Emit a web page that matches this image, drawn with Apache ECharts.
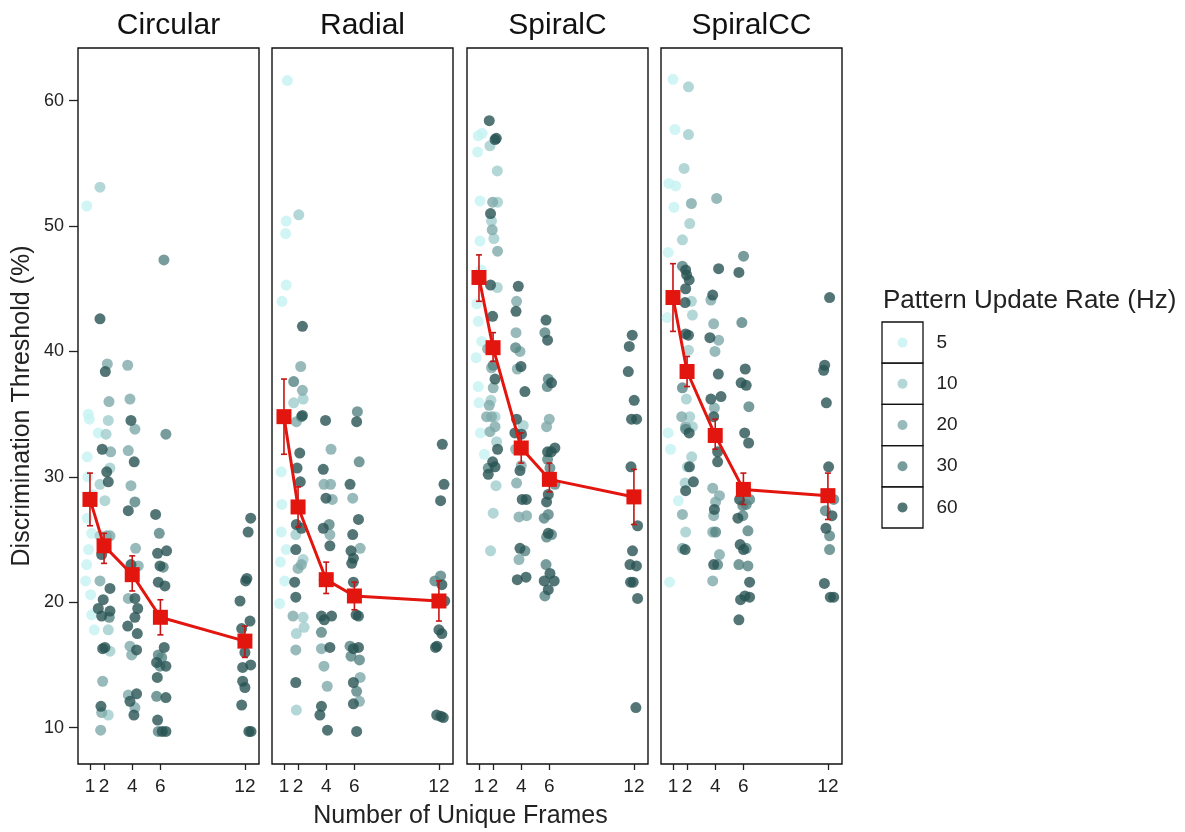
<!DOCTYPE html>
<html lang="en">
<head>
    <meta charset="utf-8">
    <title>Discrimination threshold by unique frames</title>
    <script src="https://cdn.jsdelivr.net/npm/echarts@6/dist/echarts.min.js"></script>
    <style>
        html, body { margin: 0; padding: 0; background: #fff; }
        #main { width: 1185px; height: 832px; }
    </style>
</head>
<body>
<div id="main"></div>
<script type="text/javascript">
    // facets and x categories
    var panels = ['Circular', 'Radial', 'SpiralC', 'SpiralCC'];
    var frames = [1, 2, 4, 6, 12];
    var rates = [5, 10, 20, 30, 60];

    // jittered points: [frames (jittered), threshold, rate]
    var circularPts = [
        [1.71, 53.1, 10], [0.77, 51.6, 5], [6.25, 47.3, 30], [1.71, 42.6, 60], [2.23, 39.0, 20], [3.68, 38.9, 20],
        [2.09, 38.4, 60], [2.35, 36.0, 20], [3.84, 36.2, 20], [0.88, 35.0, 5], [0.95, 34.6, 5], [2.30, 34.5, 10],
        [3.91, 34.5, 60], [4.19, 33.8, 20], [6.39, 33.4, 30], [1.59, 33.5, 5], [2.14, 33.4, 10], [0.81, 31.6, 5],
        [1.87, 32.2, 60], [2.47, 32.0, 20], [3.72, 32.1, 20], [4.14, 31.2, 60], [2.19, 30.4, 60], [2.42, 30.7, 10],
        [2.30, 29.6, 60], [1.71, 29.4, 10], [3.91, 29.3, 20], [2.06, 28.1, 10], [4.19, 28.0, 30], [3.72, 27.3, 60],
        [5.66, 27.0, 60], [5.92, 25.5, 30], [1.71, 25.3, 10], [0.81, 26.7, 5], [1.12, 25.5, 5], [2.19, 25.3, 20],
        [2.42, 25.3, 20], [4.24, 24.3, 20], [0.77, 23.0, 5], [0.69, 21.7, 5], [1.83, 23.8, 60], [5.80, 23.9, 60],
        [6.44, 24.1, 60], [5.97, 22.9, 60], [6.20, 22.8, 30], [4.43, 22.9, 20], [3.91, 23.0, 60], [1.71, 21.7, 20],
        [2.42, 21.1, 60], [5.85, 21.6, 60], [6.32, 21.3, 60], [1.94, 20.2, 60], [1.59, 19.5, 60], [2.42, 19.3, 60],
        [1.83, 18.9, 60], [2.37, 18.8, 30], [2.30, 17.8, 10], [1.12, 19.0, 5], [1.31, 17.8, 5], [3.72, 20.3, 20],
        [4.19, 20.3, 60], [4.39, 19.5, 60], [4.19, 18.8, 60], [3.68, 18.1, 60], [4.36, 17.5, 60], [3.84, 16.5, 20],
        [4.31, 16.2, 60], [3.96, 15.8, 20], [1.90, 16.3, 60], [2.06, 16.4, 60], [2.42, 16.1, 10], [1.90, 13.7, 20],
        [1.78, 11.7, 60], [1.83, 11.2, 20], [2.30, 11.0, 10], [1.76, 9.8, 20], [3.72, 12.6, 20], [4.31, 12.7, 60],
        [3.84, 12.1, 60], [4.19, 11.6, 20], [4.12, 11.0, 60], [6.27, 16.4, 60], [5.85, 15.8, 30], [6.09, 15.6, 30],
        [5.73, 15.2, 60], [6.39, 14.9, 60], [5.97, 14.9, 30], [5.78, 14.0, 60], [5.73, 12.5, 30], [6.39, 12.4, 60],
        [5.80, 10.6, 60], [5.85, 9.7, 30], [6.39, 9.7, 60], [6.13, 9.7, 60], [12.41, 26.7, 60], [12.23, 25.6, 60],
        [12.05, 21.7, 60], [12.14, 21.9, 60], [11.65, 20.1, 60], [12.36, 18.5, 60], [11.77, 17.9, 60], [12.0, 16.0, 60],
        [12.41, 15.0, 60], [11.84, 14.8, 60], [11.84, 13.7, 60], [12.0, 13.2, 60], [11.77, 11.8, 60], [12.28, 9.7, 60],
        [12.43, 9.7, 60], [0.85, 30.0, 5], [1.20, 28.6, 5], [0.90, 24.2, 5], [1.05, 20.6, 5]
    ];
    var radialPts = [
        [1.24, 61.6, 5], [2.05, 50.9, 10], [1.16, 50.4, 5], [1.12, 49.4, 5], [1.16, 45.3, 5], [0.86, 44.0, 5],
        [2.31, 42.0, 60], [2.19, 38.8, 20], [1.69, 37.6, 30], [2.31, 36.9, 20], [2.36, 36.2, 10], [1.69, 35.9, 10],
        [2.24, 34.8, 30], [1.88, 34.4, 20], [3.95, 34.5, 60], [6.21, 35.2, 30], [6.16, 34.4, 60], [2.31, 34.9, 60],
        [4.34, 32.2, 20], [12.24, 32.6, 60], [2.12, 31.9, 60], [6.34, 31.2, 30], [0.81, 30.4, 5], [1.93, 30.7, 60],
        [3.79, 30.6, 60], [2.16, 29.6, 60], [3.84, 29.4, 20], [4.31, 29.4, 20], [5.69, 29.4, 60], [12.36, 29.4, 60],
        [5.88, 28.3, 20], [12.12, 28.1, 60], [3.98, 28.3, 60], [4.43, 28.2, 20], [6.29, 26.6, 60], [1.88, 26.2, 60],
        [2.24, 25.9, 60], [0.81, 25.6, 5], [3.79, 25.9, 60], [4.21, 26.2, 30], [4.26, 25.4, 20], [5.88, 25.4, 60],
        [1.84, 25.4, 10], [4.26, 24.5, 60], [1.84, 24.2, 60], [1.16, 24.2, 5], [5.76, 24.1, 60], [6.41, 24.3, 20],
        [5.81, 23.1, 60], [5.93, 23.5, 60], [2.36, 23.4, 10], [2.24, 23.0, 20], [2.0, 22.7, 20], [12.12, 22.1, 30],
        [11.71, 21.7, 30], [12.41, 20.1, 60], [12.21, 21.4, 60], [3.86, 21.8, 60], [1.76, 21.6, 60], [1.05, 21.7, 5],
        [1.84, 20.4, 60], [5.93, 21.6, 60], [0.69, 19.9, 5], [1.64, 18.9, 20], [2.36, 18.8, 10], [2.43, 18.0, 10],
        [1.88, 17.5, 10], [3.66, 18.9, 60], [4.38, 18.9, 60], [3.86, 18.6, 60], [3.66, 17.6, 30], [6.12, 19.0, 60],
        [6.29, 18.9, 60], [12.0, 17.8, 60], [12.21, 17.5, 60], [11.76, 16.4, 60], [11.86, 16.5, 60], [1.84, 16.2, 20],
        [3.66, 16.3, 20], [4.26, 16.4, 60], [5.69, 16.5, 30], [6.29, 16.4, 60], [5.93, 16.3, 60], [5.76, 15.7, 30],
        [6.36, 15.4, 30], [3.84, 14.9, 20], [4.07, 13.3, 20], [1.84, 13.6, 60], [5.93, 13.6, 60], [6.41, 14.0, 20],
        [6.16, 12.9, 30], [3.66, 11.7, 60], [3.55, 11.0, 60], [1.88, 11.4, 10], [5.93, 11.9, 60], [6.36, 12.1, 20],
        [4.09, 9.8, 60], [6.16, 9.7, 60], [11.84, 11.0, 60], [12.14, 10.9, 60], [12.31, 10.8, 60], [2.0, 27.6, 30],
        [0.85, 27.8, 5], [0.75, 23.2, 5]
    ];
    var spiralCPts = [
        [1.73, 58.4, 60], [2.14, 56.9, 60], [2.23, 57.0, 60], [0.95, 57.2, 5], [1.23, 57.4, 5], [1.78, 56.4, 10],
        [0.90, 55.9, 5], [2.30, 54.4, 10], [1.07, 52.0, 5], [1.97, 51.9, 20], [2.32, 51.9, 10], [1.82, 51.0, 60],
        [1.89, 50.4, 10], [1.94, 49.7, 20], [2.06, 49.0, 10], [1.07, 48.8, 5], [2.32, 48.0, 20], [1.82, 45.3, 60],
        [2.30, 45.1, 10], [3.79, 45.2, 60], [3.67, 44.0, 20], [3.63, 43.2, 60], [5.76, 42.5, 60], [5.68, 41.5, 30],
        [5.87, 40.9, 60], [11.88, 41.3, 60], [11.67, 40.4, 60], [11.60, 38.4, 60], [12.02, 36.1, 60], [11.83, 34.6, 60],
        [12.19, 34.6, 60], [1.97, 42.8, 60], [0.95, 42.4, 5], [1.61, 40.2, 20], [3.63, 41.5, 20], [3.60, 40.3, 30],
        [3.91, 40.0, 20], [3.98, 38.8, 60], [3.72, 38.6, 20], [2.01, 38.9, 30], [1.89, 38.7, 20], [2.14, 37.8, 60],
        [2.01, 37.1, 20], [0.95, 37.2, 5], [4.26, 36.8, 60], [5.92, 37.8, 30], [6.15, 37.5, 60], [5.85, 37.2, 30],
        [1.85, 36.1, 10], [1.73, 35.7, 20], [1.0, 35.9, 5], [1.54, 34.8, 20], [1.89, 34.8, 20], [2.14, 34.8, 10],
        [3.67, 34.6, 60], [4.14, 34.1, 10], [5.99, 34.6, 20], [5.80, 34.0, 20], [1.78, 33.6, 20], [2.14, 34.0, 20],
        [2.25, 32.8, 10], [2.32, 32.2, 60], [3.55, 33.5, 60], [4.02, 33.4, 60], [3.60, 32.2, 20], [5.87, 32.0, 60],
        [6.39, 32.3, 60], [6.13, 32.0, 60], [5.87, 31.4, 30], [1.38, 31.8, 5], [1.97, 31.2, 60], [2.14, 30.8, 60],
        [1.66, 30.7, 30], [1.66, 30.2, 60], [3.91, 30.5, 60], [4.0, 30.9, 20], [6.04, 30.7, 30], [6.39, 29.4, 30],
        [2.21, 29.3, 10], [3.67, 29.5, 20], [11.79, 30.8, 60], [5.92, 28.6, 60], [4.07, 28.2, 60], [4.36, 28.2, 60],
        [5.80, 28.0, 60], [12.26, 26.1, 60], [2.01, 27.1, 10], [3.84, 26.8, 20], [4.38, 26.9, 20], [5.63, 26.7, 30],
        [5.92, 27.0, 30], [5.92, 25.5, 60], [6.15, 25.4, 30], [5.80, 25.2, 30], [1.82, 24.1, 10], [3.91, 24.3, 60],
        [4.26, 24.1, 30], [3.84, 23.4, 20], [11.90, 24.1, 60], [11.72, 23.0, 60], [12.18, 22.9, 60], [11.76, 21.6, 60],
        [11.95, 21.6, 60], [12.26, 20.3, 60], [5.76, 23.0, 30], [6.04, 22.3, 60], [5.63, 21.7, 60], [6.34, 21.7, 60],
        [5.92, 21.0, 60], [5.68, 20.5, 30], [3.72, 21.8, 60], [4.34, 22.0, 60], [12.14, 11.6, 60],
        [1.15, 46.5, 5], [0.85, 43.8, 5], [1.20, 40.8, 5], [0.80, 39.5, 5], [1.10, 33.5, 5]
    ];
    var spiralCCPts = [
        [1.0, 61.7, 5], [2.10, 61.1, 10], [1.14, 57.7, 5], [2.10, 57.3, 10], [1.79, 54.6, 10], [0.71, 53.4, 5],
        [1.19, 53.2, 5], [2.31, 51.8, 20], [4.10, 52.2, 20], [1.07, 51.5, 5], [2.19, 50.2, 10], [1.67, 48.9, 10],
        [0.66, 47.9, 5], [6.01, 47.6, 30], [5.68, 46.3, 60], [4.24, 46.6, 60], [1.67, 46.8, 30], [1.90, 46.5, 60],
        [1.97, 46.1, 60], [2.15, 45.7, 60], [1.90, 45.0, 60], [1.86, 43.9, 60], [2.31, 44.0, 10], [3.82, 44.5, 60],
        [3.69, 44.1, 20], [12.12, 44.3, 60], [0.59, 42.7, 5], [2.38, 42.9, 10], [3.89, 42.2, 20], [5.89, 42.3, 30],
        [2.10, 41.3, 60], [1.90, 41.4, 60], [3.62, 41.1, 60], [4.24, 40.9, 20], [3.98, 40.0, 20], [2.10, 40.1, 10],
        [6.13, 38.6, 60], [11.77, 38.9, 60], [11.70, 38.5, 60], [4.22, 38.2, 60], [1.67, 37.1, 30], [5.84, 37.5, 60],
        [6.20, 37.3, 60], [3.69, 36.2, 60], [4.41, 36.4, 60], [1.95, 36.2, 10], [6.39, 35.6, 30], [11.89, 35.9, 60],
        [3.94, 35.5, 20], [1.62, 34.8, 20], [2.19, 34.8, 10], [3.89, 34.8, 60], [0.66, 33.5, 5], [1.90, 34.0, 20],
        [2.38, 34.0, 10], [6.09, 33.5, 60], [1.90, 33.8, 30], [2.15, 33.5, 60], [0.83, 32.2, 5], [2.33, 31.6, 10],
        [6.37, 32.7, 60], [4.17, 32.0, 60], [4.17, 31.2, 60], [2.02, 30.8, 10], [2.17, 30.8, 60], [12.05, 30.8, 60],
        [1.86, 29.5, 10], [2.45, 29.6, 60], [1.90, 28.9, 60], [3.82, 29.1, 20], [4.30, 28.5, 20], [4.03, 28.0, 20],
        [3.94, 27.4, 60], [3.89, 26.9, 20], [5.73, 28.2, 60], [6.44, 28.2, 30], [5.96, 27.7, 30], [6.20, 27.8, 30],
        [5.61, 26.7, 60], [5.96, 26.9, 30], [6.32, 25.7, 30], [1.38, 28.1, 5], [1.67, 27.0, 20], [1.90, 25.6, 10],
        [11.82, 27.3, 30], [12.29, 26.9, 60], [12.41, 28.2, 30], [11.86, 25.9, 60], [12.12, 25.3, 30], [12.12, 24.2, 30],
        [3.82, 25.6, 20], [4.03, 25.6, 30], [1.67, 24.3, 20], [1.86, 24.2, 60], [4.30, 23.8, 20], [3.89, 23.0, 60],
        [4.17, 23.0, 30], [5.77, 24.6, 60], [6.01, 24.2, 60], [6.20, 24.3, 30], [5.68, 23.0, 30], [6.32, 22.9, 30],
        [6.44, 21.6, 60], [3.82, 21.7, 20], [0.76, 21.6, 5], [5.80, 20.2, 60], [6.44, 20.4, 60], [6.11, 20.5, 60],
        [5.68, 18.6, 60], [11.75, 21.5, 60], [12.17, 20.4, 60], [12.41, 20.4, 60]
    ];

    // means with error bar limits, one value per frame count
    var circularMean = [28.2, 24.5, 22.2, 18.8, 16.9];
    var circularLo = [26.1, 23.1, 20.9, 17.4, 15.6];
    var circularHi = [30.3, 25.5, 23.7, 20.2, 18.1];
    var radialMean = [34.8, 27.6, 21.8, 20.5, 20.1];
    var radialLo = [31.8, 26.0, 20.7, 19.4, 18.5];
    var radialHi = [37.8, 29.2, 23.2, 21.6, 21.7];
    var spiralCMean = [45.9, 40.3, 32.3, 29.8, 28.4];
    var spiralCLo = [44.0, 39.2, 31.1, 28.8, 26.2];
    var spiralCHi = [47.7, 41.5, 33.5, 31.1, 30.6];
    var spiralCCMean = [44.3, 38.4, 33.3, 29.0, 28.5];
    var spiralCCLo = [41.6, 37.2, 32.2, 27.8, 26.6];
    var spiralCCHi = [47.0, 39.6, 34.6, 30.3, 30.3];

    var yTicks = [10, 20, 30, 40, 50, 60];

    var allPts = [circularPts, radialPts, spiralCPts, spiralCCPts];
    var allMean = [circularMean, radialMean, spiralCMean, spiralCCMean];
    var allLo = [circularLo, radialLo, spiralCLo, spiralCCLo];
    var allHi = [circularHi, radialHi, spiralCHi, spiralCCHi];

    var rateColors = {5: '#c6f3f3', 10: '#a0cccc', 20: '#7ea9a9', 30: '#568383', 60: '#285353'};
    var panelLeft = [78, 272, 467, 661];
    var panelW = 181;
    var font = '"Liberation Sans", Arial, sans-serif';

    var grids = [], xAxes = [], yAxes = [], series = [], texts = [];

    for (let p = 0; p < panels.length; p++) {
        grids.push({
            left: panelLeft[p], top: 48, width: panelW, height: 716,
            show: true, borderColor: '#111', borderWidth: 1.4, backgroundColor: '#fff'
        });
        xAxes.push({
            type: 'value', gridIndex: p, min: 0.15, max: 13.0,
            axisLine: {show: false},
            splitLine: {show: false},
            axisTick: {show: true, customValues: frames, length: 6, lineStyle: {color: '#222', width: 1.3}},
            axisLabel: {customValues: frames, fontSize: 19, color: '#222', fontFamily: font, margin: 13}
        });
        yAxes.push({
            type: 'value', gridIndex: p, min: 7.1, max: 64.2,
            axisLine: {show: false},
            splitLine: {show: false},
            axisTick: {show: p === 0, customValues: yTicks, length: 9, lineStyle: {color: '#222', width: 1.3}},
            axisLabel: {show: p === 0, customValues: yTicks, fontSize: 18, color: '#222', fontFamily: font, margin: 14}
        });
        // facet strip title
        texts.push({
            type: 'text', x: panelLeft[p] + panelW / 2, y: 26,
            style: {text: panels[p], fill: '#111', font: '30px ' + font, textAlign: 'center', textVerticalAlign: 'middle'}
        });

        // scatter points, one series per update rate
        rates.forEach(function (r) {
            series.push({
                name: String(r),
                type: 'scatter',
                xAxisIndex: p, yAxisIndex: p,
                symbolSize: 11,
                itemStyle: {color: rateColors[r], opacity: 0.8},
                data: allPts[p].filter(function (d) { return d[2] === r; })
                    .map(function (d) { return [d[0], d[1]]; }),
                z: 2
            });
        });

        // error bars
        series.push({
            type: 'custom',
            xAxisIndex: p, yAxisIndex: p,
            data: frames.map(function (f, i) { return [f, allLo[p][i], allHi[p][i]]; }),
            encode: {x: 0, y: [1, 2]},
            renderItem: function (params, api) {
                var x = api.value(0);
                var lo = api.coord([x, api.value(1)]);
                var hi = api.coord([x, api.value(2)]);
                var cap = 3;
                var style = {stroke: '#c41414', lineWidth: 1.6};
                return {
                    type: 'group',
                    children: [
                        {type: 'line', shape: {x1: lo[0], y1: lo[1], x2: hi[0], y2: hi[1]}, style: style},
                        {type: 'line', shape: {x1: lo[0] - cap, y1: lo[1], x2: lo[0] + cap, y2: lo[1]}, style: style},
                        {type: 'line', shape: {x1: hi[0] - cap, y1: hi[1], x2: hi[0] + cap, y2: hi[1]}, style: style}
                    ]
                };
            },
            z: 3
        });

        // mean line with square markers
        series.push({
            type: 'line',
            xAxisIndex: p, yAxisIndex: p,
            data: frames.map(function (f, i) { return [f, allMean[p][i]]; }),
            symbol: 'rect', symbolSize: 15,
            lineStyle: {color: '#e3150f', width: 3},
            itemStyle: {color: '#e3150f'},
            z: 4
        });
    }

    // legend: one small legend per key so each sits in its own box
    var boxTop = 322, boxH = 41.2;
    var legends = rates.map(function (r, i) {
        return {
            data: [String(r)],
            orient: 'vertical',
            left: 897.5, top: boxTop + i * boxH + boxH / 2 - 10,
            padding: 0,
            itemWidth: 10, itemHeight: 10,
            icon: 'circle',
            selectedMode: false,
            textStyle: {fontSize: 19, lineHeight: 20, color: '#222', fontFamily: font, padding: [0, 0, 0, 24]}
        };
    });
    var legendBoxes = rates.map(function (r, i) {
        return {
            type: 'rect',
            shape: {x: 882, y: boxTop + i * boxH, width: 41, height: boxH},
            style: {fill: 'none', stroke: '#111', lineWidth: 1.3}
        };
    });

    texts.push(
        {
            type: 'text', x: 883, y: 301,
            style: {text: 'Pattern Update Rate (Hz)', fill: '#222', font: '26px ' + font,
                textAlign: 'left', textVerticalAlign: 'middle'}
        },
        {
            type: 'text', x: 460.5, y: 816,
            style: {text: 'Number of Unique Frames', fill: '#222', font: '25px ' + font,
                textAlign: 'center', textVerticalAlign: 'middle'}
        },
        {
            type: 'text', x: 22, y: 406, rotation: Math.PI / 2,
            style: {text: 'Discrimination Threshold (%)', fill: '#222', font: '25px ' + font,
                textAlign: 'center', textVerticalAlign: 'middle'}
        }
    );

    var myChart = echarts.init(document.getElementById('main'));
    var option = {
        backgroundColor: '#fff',
        animation: false,
        grid: grids,
        xAxis: xAxes,
        yAxis: yAxes,
        legend: legends,
        graphic: legendBoxes.concat(texts),
        series: series
    };
    myChart.setOption(option);
</script>
</body>
</html>
